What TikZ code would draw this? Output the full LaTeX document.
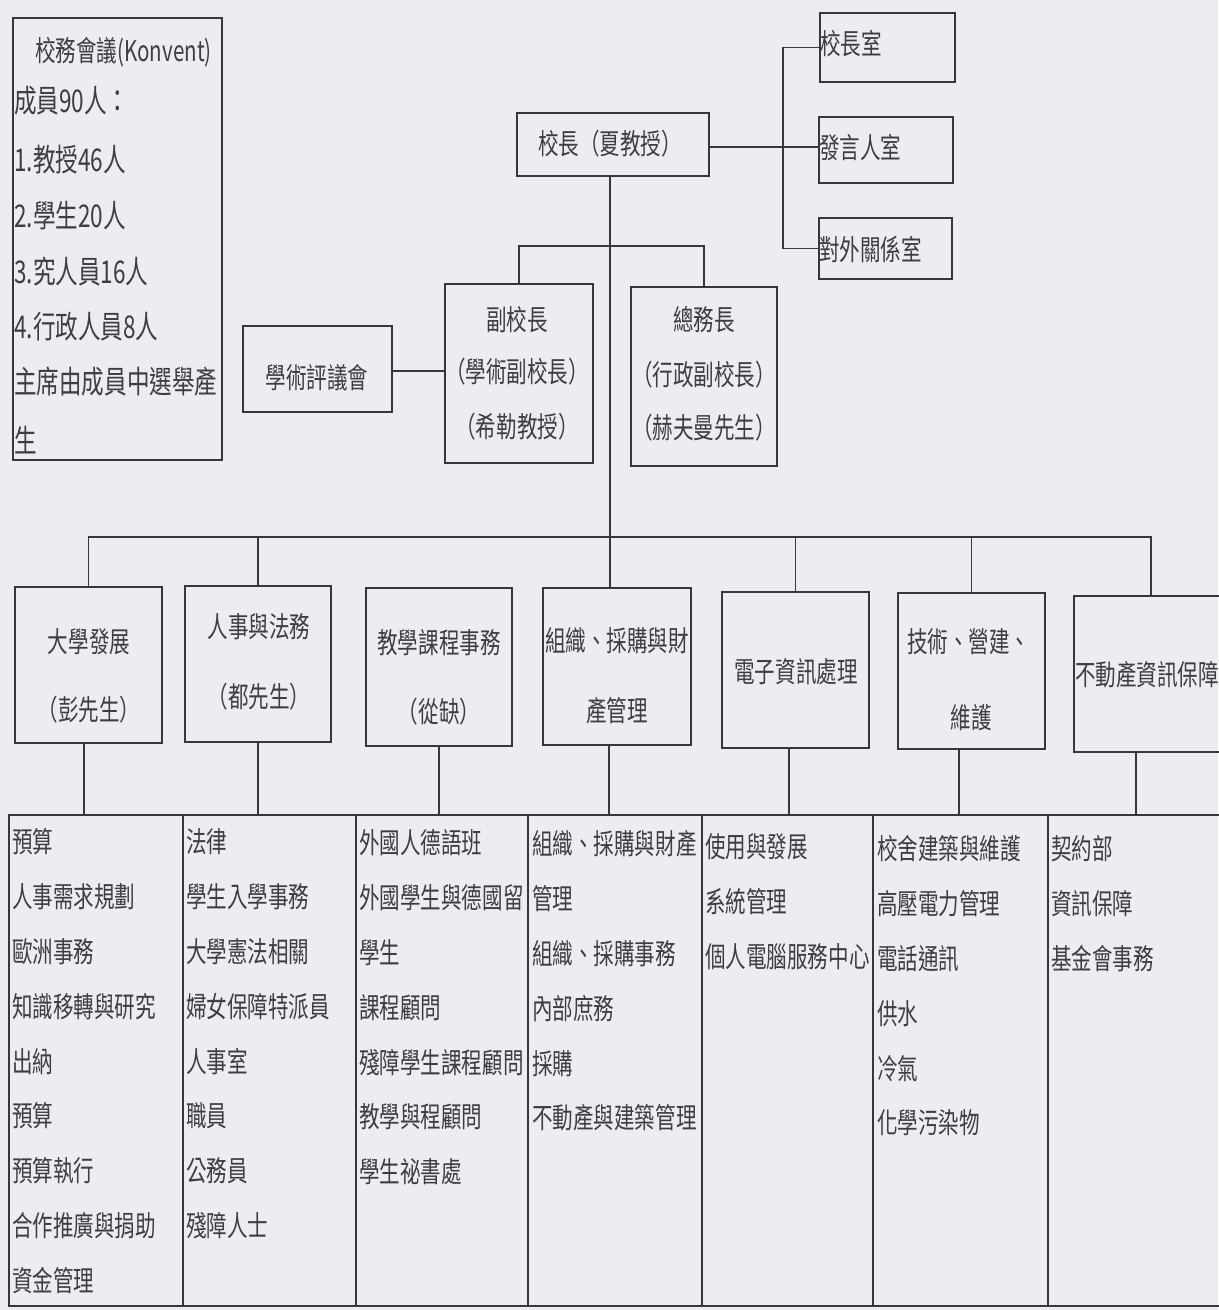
\documentclass[tikz,border=0pt]{standalone}
\usepackage{fontspec}
\newfontfamily\cjk{Noto Sans CJK TC}[FakeStretch=0.72]
\definecolor{bg}{RGB}{238,236,242}
\definecolor{ln}{RGB}{55,55,60}
\definecolor{tx}{RGB}{62,62,66}
\tikzset{
  box/.style={draw=ln, line width=1.4pt, inner sep=0pt, outer sep=0pt, anchor=north west},
  conn/.style={draw=ln, line width=1.3pt},
  lt/.style={font=\cjk\fontsize{21.4}{25}\selectfont, text=tx, inner sep=0pt},
  kt/.style={font=\cjk\fontsize{23.5}{28}\selectfont, text=tx, inner sep=0pt, anchor=west},
}
\newcommand\mkbox[5]{\node[box, minimum width=#4*0.75pt, minimum height=#5*0.75pt] (#1) at (#2,#3) {};}
\begin{document}
\begin{tikzpicture}[x=0.75pt,y=-0.75pt]
\fill[bg] (0,0) rectangle (1218,1310);
\useasboundingbox (0,0) rectangle (1218,1310);

% boxes
\mkbox{kon}{13}{18}{209}{442}
\mkbox{pres}{517}{113}{192}{63}
\mkbox{ro1}{820}{13}{135}{69}
\mkbox{ro2}{819}{117}{134}{66}
\mkbox{ro3}{819}{218}{133}{61}
\mkbox{vp}{445}{284}{148}{179}
\mkbox{ga}{631}{287}{146}{179}
\mkbox{sen}{243}{326}{149}{86}
\mkbox{d1}{15}{587}{147}{156}
\mkbox{d2}{185}{586}{146}{156}
\mkbox{d3}{366}{588}{146}{158}
\mkbox{d4}{543}{588}{148}{157}
\mkbox{d5}{722}{592}{147}{156}
\mkbox{d6}{898}{593}{147}{156}
\mkbox{d7}{1074}{596}{154}{156}
\mkbox{tbl}{9}{815}{1230}{491}

% Konvent text
\node[lt, anchor=west] (k0) at (35,52) {校務會議(Konvent)};
\node[kt] (k1) at (14,101) {成員90人：};
\node[kt] (k2) at (14,160) {1.教授46人};
\node[kt] (k3) at (14,216) {2.學生20人};
\node[kt] (k4) at (14,272) {3.究人員16人};
\node[kt] (k5) at (14,327) {4.行政人員8人};
\node[kt] (k6) at (14,382) {主席由成員中選舉產};
\node[kt] (k7) at (14,440) {生};

% top texts
\node[lt] (pres-t) at (610,144) {校長（夏教授）};
\node[lt, anchor=west] (ro1-t) at (820,44) {校長室};
\node[lt, anchor=west] (ro2-t) at (819,148) {發言人室};
\node[lt, anchor=west] (ro3-t) at (819,249) {對外關係室};
\node[lt] (vp-t1) at (517,320) {副校長};
\node[lt] (vp-t2) at (517,372) {（學術副校長）};
\node[lt] (vp-t3) at (517,427) {（希勒教授）};
\node[lt] (ga-t1) at (704,320) {總務長};
\node[lt] (ga-t2) at (704,375) {（行政副校長）};
\node[lt] (ga-t3) at (704,428) {（赫夫曼先生）};
\node[lt] (sen-t) at (317,378) {學術評議會};

% department texts
\node[lt] (d1-t1) at (89,642) {大學發展};
\node[lt] (d1-t2) at (89,710) {（彭先生）};
\node[lt] (d2-t1) at (259,627) {人事與法務};
\node[lt] (d2-t2) at (259,697) {（都先生）};
\node[lt] (d3-t1) at (439,643) {教學課程事務};
\node[lt] (d3-t2) at (439,712) {（從缺）};
\node[lt, anchor=west] (d4-t1) at (545,641) {組織、採購與財};
\node[lt] (d4-t2) at (617,711) {產管理};
\node[lt] (d5-t1) at (796,672) {電子資訊處理};
\node[lt, anchor=west] (d6-t1) at (907,642) {技術、營建、};
\node[lt] (d6-t2) at (971,718) {維護};
\node[lt, anchor=west] (d7-t1) at (1075,675) {不動產資訊保障};

% table columns
\foreach \x [count=\i] in {183,356,528,702,873,1048}{
  \draw[conn, line width=1.1pt] (tbl.north -| \x,0) -- (tbl.south -| \x,0);
}
\foreach \t [count=\i] in {預算,人事需求規劃,歐洲事務,知識移轉與研究,出納,預算,預算執行,合作推廣與捐助,資金管理}
  \node[lt, anchor=west] (ca\i) at (12,{842+54.8*(\i-1)}) {\t};
\foreach \t [count=\i] in {法律,學生入學事務,大學憲法相關,婦女保障特派員,人事室,職員,公務員,殘障人士}
  \node[lt, anchor=west] (cb\i) at (186,{842+54.8*(\i-1)}) {\t};
\foreach \t [count=\i] in {外國人德語班,外國學生與德國留,學生,課程顧問,殘障學生課程顧問,教學與程顧問,學生祕書處}
  \node[lt, anchor=west] (cc\i) at (359,{843+54.8*(\i-1)}) {\t};
\foreach \t [count=\i] in {組織、採購與財產,管理,組織、採購事務,內部庶務,採購,不動產與建築管理}
  \node[lt, anchor=west] (cd\i) at (532,{844+54.8*(\i-1)}) {\t};
\foreach \t [count=\i] in {使用與發展,系統管理,個人電腦服務中心}
  \node[lt, anchor=west] (ce\i) at (705,{847+54.8*(\i-1)}) {\t};
\foreach \t [count=\i] in {校舍建築與維護,高壓電力管理,電話通訊,供水,冷氣,化學污染物}
  \node[lt, anchor=west] (cf\i) at (877,{849+54.8*(\i-1)}) {\t};
\foreach \t [count=\i] in {契約部,資訊保障,基金會事務}
  \node[lt, anchor=west] (cg\i) at (1051,{849+54.8*(\i-1)}) {\t};

% connectors
\coordinate (spine) at (783,147);
\coordinate (trunk) at (610,537);
\coordinate (vj) at (610,246);
\draw[conn] (pres.east |- spine) -- (spine -| ro2.west);
\draw[conn] (ro1.west) -| (spine) |- (ro3.west);
\draw[conn] (pres.south -| trunk) -- (trunk |- d4.north);
\draw[conn] (vp.north) |- (vj) -| (ga.north);
\draw[conn] (sen.east |- 0,371) -- (vp.west |- 0,371);
\draw[conn] (d1.north) |- (trunk) -| (d7.north);
\foreach \n in {d2,d5,d6}
  \draw[conn] (\n.north) -- (\n.north |- trunk);
\foreach \n/\o in {d1/-4.5,d2/0,d3/0,d4/-8,d5/-6.5,d6/-12.5,d7/-15}{
  \path (\n.south) ++(\o,0) coordinate (\n-b);
  \draw[conn] (\n-b) -- (\n-b |- tbl.north);
}
\end{tikzpicture}
\end{document}
